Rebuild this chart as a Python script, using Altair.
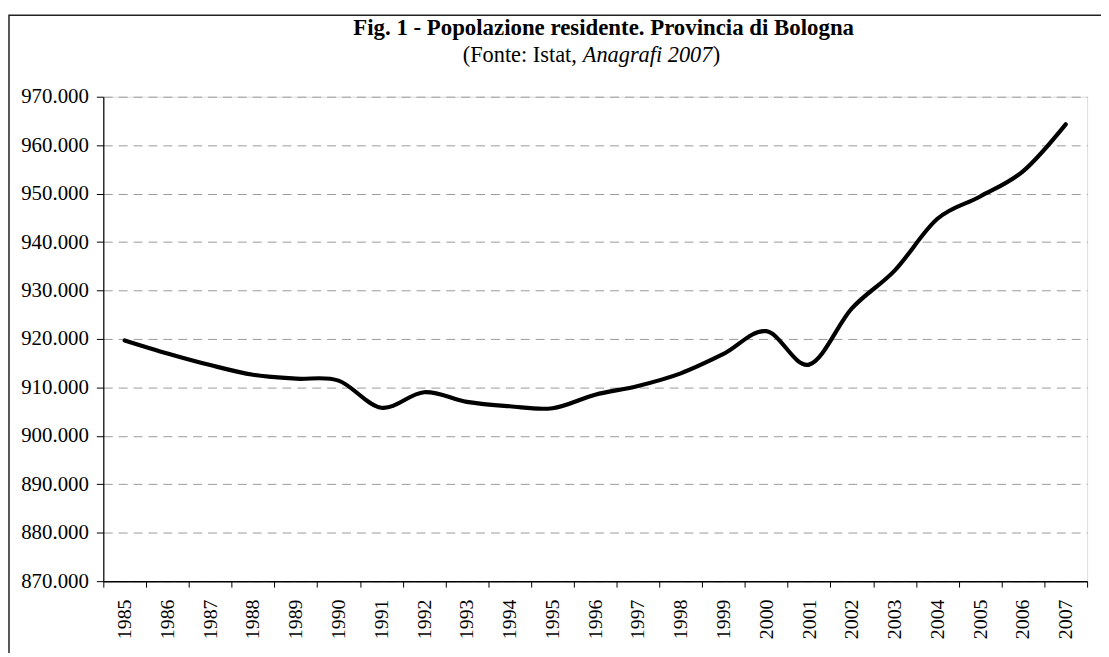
import altair as alt
import pandas as pd

years = [str(y) for y in range(1985, 2008)]
popolazione = [919700, 917000, 914600, 912600, 911800, 911400, 905800, 909000,
               907000, 906100, 905700, 908500, 910300, 912900, 916900, 921600,
               914700, 926300, 934100, 944800, 949400, 954600, 964300]
y_ticks = list(range(870000, 970001, 10000))

title_text = "Fig. 1 - Popolazione residente. Provincia di Bologna"
sub_a = "(Fonte: Istat,"
sub_b = "Anagrafi 2007"
sub_c = ")"

df = pd.DataFrame({"anno": years, "pop": popolazione})
FONT = "Liberation Serif"

base = alt.Chart(df)

line = base.mark_line(color="black", strokeWidth=4.2, interpolate="cardinal",
                      strokeCap="round", strokeJoin="round").encode(
    x=alt.X("anno:O", sort=years,
            scale=alt.Scale(paddingInner=0, paddingOuter=0),
            axis=alt.Axis(title=None, labelAngle=270, labelFont=FONT, labelFontSize=20,
                          labelColor="black", labelPadding=12, tickBand="extent",
                          tickSize=6, tickColor="black", domainColor="black",
                          domainWidth=1.5, grid=False)),
    y=alt.Y("pop:Q", scale=alt.Scale(domain=[870000, 970000], nice=False, zero=False),
            axis=alt.Axis(title=None, values=y_ticks, labelFont=FONT, labelFontSize=21,
                          labelColor="black", labelPadding=8, tickSize=7,
                          tickColor="black", domainColor="black", domainWidth=1.2,
                          labelExpr="replace(format(datum.value, ','), ',', '.')",
                          grid=True, gridColor="#9a9a9a", gridDash=[9, 6],
                          gridWidth=1)),
)

def txt(s, x, y, size, weight="normal", style="normal", align="center"):
    return alt.Chart(pd.DataFrame({"t": [s]})).mark_text(
        font=FONT, fontSize=size, fontWeight=weight, fontStyle=style,
        align=align, baseline="alphabetic", color="black"
    ).encode(text="t:N", x=alt.value(x), y=alt.value(y))

t1 = txt(title_text, 504, -62, 23, weight="bold")
s1 = txt(sub_a, 477, -35, 22.5, align="right")
s2 = txt(sub_b, 483, -35, 22.5, style="italic", align="left")
s3 = txt(sub_c, 614, -35, 22.5, align="left")

frame = alt.Chart(pd.DataFrame({"f": [0]})).mark_rect(
    fill=None, fillOpacity=0, stroke="#222", strokeWidth=1.5
).encode(x=alt.value(-95), x2=alt.value(1300), y=alt.value(-82), y2=alt.value(900))

chart = alt.layer(frame, line, t1, s1, s2, s3).properties(
    width=991, height=488,
    autosize=alt.AutoSizeParams(type="none"),
    padding={"left": 96, "top": 87, "right": 14, "bottom": 70},
).configure_view(stroke="#8c8c8c", strokeWidth=1).configure(background="white")

chart.save("out.html", embed_options={"renderer": "svg", "actions": False})
